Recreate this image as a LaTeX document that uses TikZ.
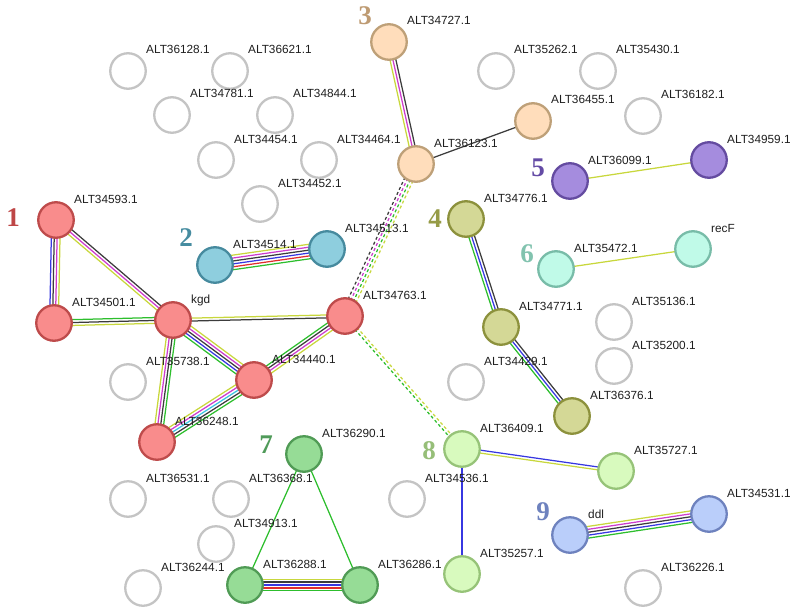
\documentclass[tikz,border=0pt]{standalone}
\usepackage{fontspec}
\setmainfont{Liberation Sans}
\newfontfamily\numfont{Liberation Serif}
\usetikzlibrary{calc}
\pgfdeclarelayer{bg}
\pgfsetlayers{bg,main}
\definecolor{cYel}{RGB}{200,215,60}
\definecolor{cGrn}{RGB}{45,190,45}
\definecolor{cBlu}{RGB}{55,55,225}
\definecolor{cRed}{RGB}{225,45,45}
\definecolor{cMag}{RGB}{205,60,205}
\definecolor{cBlk}{RGB}{60,60,60}
\definecolor{cCya}{RGB}{60,195,225}
\definecolor{fRed}{RGB}{249,140,140}\definecolor{bRed}{RGB}{190,75,75}
\definecolor{fBlu}{RGB}{142,206,222}\definecolor{bBlu}{RGB}{70,138,158}
\definecolor{fOra}{RGB}{255,221,187}\definecolor{bOra}{RGB}{190,160,120}
\definecolor{fOli}{RGB}{212,216,150}\definecolor{bOli}{RGB}{140,145,60}
\definecolor{fPur}{RGB}{165,140,222}\definecolor{bPur}{RGB}{100,75,160}
\definecolor{fTea}{RGB}{192,250,232}\definecolor{bTea}{RGB}{120,188,168}
\definecolor{fGrn}{RGB}{150,220,150}\definecolor{bGrn}{RGB}{80,155,85}
\definecolor{fLgr}{RGB}{216,250,190}\definecolor{bLgr}{RGB}{150,195,120}
\definecolor{fBl9}{RGB}{186,206,250}\definecolor{bBl9}{RGB}{110,130,190}
\definecolor{bGry}{RGB}{196,196,196}
\definecolor{tDark}{RGB}{30,30,30}
\definecolor{k1}{RGB}{190,70,70}
\definecolor{k2}{RGB}{70,140,160}
\definecolor{k3}{RGB}{190,155,115}
\definecolor{k4}{RGB}{150,155,70}
\definecolor{k5}{RGB}{100,75,165}
\definecolor{k6}{RGB}{130,195,175}
\definecolor{k7}{RGB}{80,155,90}
\definecolor{k8}{RGB}{150,190,120}
\definecolor{k9}{RGB}{110,130,190}
\tikzset{
  prot/.style n args={2}{circle, minimum size=35.5pt, inner sep=0pt, line width=2.3pt, draw=#2, fill=#1},
  greyprot/.style={circle, minimum size=35.5pt, inner sep=0pt, line width=2.3pt, draw=bGry, fill=white},
  plabel/.style={anchor=base west, inner sep=0pt, font=\fontsize{11.8}{12}\selectfont, text=tDark},
  knum/.style={inner sep=0pt, font=\numfont\bfseries\fontsize{27}{27}\selectfont},
  eline/.style={line width=1.25pt},
  dline/.style={dash pattern=on 3pt off 2.5pt}
}
\newcommand\strline[4][]{%
  \foreach \cc [count=\ii] in {#4} {\xdef\nlin{\ii}}%
  \foreach \cc [count=\ii] in {#4} {%
    \pgfmathsetmacro\off{((\nlin+1)/2-\ii)*2.9}%
    \draw[eline,#1,draw=\cc] ($(#2.center)!\off pt!90:(#3.center)$) -- ($(#3.center)!\off pt!-90:(#2.center)$);
  }}
\newcommand\prt[5]{% name, x, y, style, label
  \node[#4] (#1) at (#2,#3) {};
  \node[plabel] (#1-l) at (#2+18,#3-17) {#5};}
\begin{document}
\begin{tikzpicture}[x=1pt,y=-1pt]
\useasboundingbox (0,0) rectangle (797,615);
% grey nodes
\prt{g36128}{128}{71}{greyprot}{ALT36128.1}
\prt{g36621}{230}{71}{greyprot}{ALT36621.1}
\prt{g34781}{172}{115}{greyprot}{ALT34781.1}
\prt{g34844}{275}{115}{greyprot}{ALT34844.1}
\prt{g34454}{216}{160}{greyprot}{ALT34454.1}
\prt{g34464}{319}{160}{greyprot}{ALT34464.1}
\prt{g34452}{260}{204}{greyprot}{ALT34452.1}
\prt{g35262}{496}{71}{greyprot}{ALT35262.1}
\prt{g35430}{598}{71}{greyprot}{ALT35430.1}
\prt{g36182}{643}{116}{greyprot}{ALT36182.1}
\prt{g35136}{614}{322}{greyprot}{ALT35136.1}
\prt{g35200}{614}{366}{greyprot}{ALT35200.1}
\prt{g34429}{466}{382}{greyprot}{ALT34429.1}
\prt{g35738}{128}{382}{greyprot}{ALT35738.1}
\prt{g36531}{128}{499}{greyprot}{ALT36531.1}
\prt{g36368}{231}{499}{greyprot}{ALT36368.1}
\prt{g34913}{216}{544}{greyprot}{ALT34913.1}
\prt{g36244}{143}{588}{greyprot}{ALT36244.1}
\prt{g34536}{407}{499}{greyprot}{ALT34536.1}
\prt{g36226}{643}{588}{greyprot}{ALT36226.1}
% cluster 1
\prt{n34593}{56}{220}{prot={fRed}{bRed}}{ALT34593.1}
\prt{n34501}{54}{323}{prot={fRed}{bRed}}{ALT34501.1}
\prt{kgd}{173}{320}{prot={fRed}{bRed}}{kgd}
\prt{n34763}{345}{316}{prot={fRed}{bRed}}{ALT34763.1}
\prt{n34440}{254}{380}{prot={fRed}{bRed}}{ALT34440.1}
\prt{n36248}{157}{442}{prot={fRed}{bRed}}{ALT36248.1}
% cluster 2
\prt{n34514}{215}{265}{prot={fBlu}{bBlu}}{ALT34514.1}
\prt{n34513}{327}{249}{prot={fBlu}{bBlu}}{ALT34513.1}
% cluster 3
\prt{n34727}{389}{42}{prot={fOra}{bOra}}{ALT34727.1}
\prt{n36123}{416}{164}{prot={fOra}{bOra}}{ALT36123.1}
\prt{n36455}{533}{121}{prot={fOra}{bOra}}{ALT36455.1}
% cluster 4
\prt{n34776}{466}{219}{prot={fOli}{bOli}}{ALT34776.1}
\prt{n34771}{501}{327}{prot={fOli}{bOli}}{ALT34771.1}
\prt{n36376}{572}{416}{prot={fOli}{bOli}}{ALT36376.1}
% cluster 5
\prt{n36099}{570}{181}{prot={fPur}{bPur}}{ALT36099.1}
\prt{n34959}{709}{160}{prot={fPur}{bPur}}{ALT34959.1}
% cluster 6
\prt{n35472}{556}{269}{prot={fTea}{bTea}}{ALT35472.1}
\prt{recF}{693}{249}{prot={fTea}{bTea}}{recF}
% cluster 7
\prt{n36290}{304}{454}{prot={fGrn}{bGrn}}{ALT36290.1}
\prt{n36288}{245}{585}{prot={fGrn}{bGrn}}{ALT36288.1}
\prt{n36286}{360}{585}{prot={fGrn}{bGrn}}{ALT36286.1}
% cluster 8
\prt{n36409}{462}{449}{prot={fLgr}{bLgr}}{ALT36409.1}
\prt{n35727}{616}{471}{prot={fLgr}{bLgr}}{ALT35727.1}
\prt{n35257}{462}{574}{prot={fLgr}{bLgr}}{ALT35257.1}
% cluster 9
\prt{ddl}{570}{535}{prot={fBl9}{bBl9}}{ddl}
\prt{n34531}{709}{514}{prot={fBl9}{bBl9}}{ALT34531.1}
% cluster numbers
\node[knum,text=k1] (k1) at (13,218) {1};
\node[knum,text=k2] (k2) at (186,238) {2};
\node[knum,text=k3] (k3) at (365,16) {3};
\node[knum,text=k4] (k4) at (435,219) {4};
\node[knum,text=k5] (k5) at (538,168) {5};
\node[knum,text=k6] (k6) at (527,254) {6};
\node[knum,text=k7] (k7) at (266,445) {7};
\node[knum,text=k8] (k8) at (429,451) {8};
\node[knum,text=k9] (k9) at (543,512) {9};
% edges
\begin{pgfonlayer}{bg}
\strline{n34593}{n34501}{cYel,cMag,cBlk,cBlu}
\strline{n34593}{kgd}{cBlk,cMag,cYel}
\strline{n34501}{kgd}{cGrn,cBlk,cYel}
\strline{kgd}{n34763}{cYel,cBlk}
\strline{kgd}{n34440}{cYel,cMag,cBlk,cBlu,cGrn}
\strline{kgd}{n36248}{cGrn,cBlk,cMag,cYel}
\strline{n34440}{n36248}{cGrn,cBlk,cCya,cMag,cYel}
\strline{n34440}{n34763}{cGrn,cBlk,cMag,cYel}
\strline{n34514}{n34513}{cYel,cMag,cBlk,cBlu,cRed,cGrn}
\strline{n34727}{n36123}{cBlk,cMag,cYel}
\strline{n36123}{n36455}{cBlk}
\strline[dline]{n36123}{n34763}{cYel,cGrn,cMag,cBlk}
\strline[dline]{n34763}{n36409}{cYel,cGrn}
\strline{n36099}{n34959}{cYel}
\strline{n35472}{recF}{cYel}
\strline{n34776}{n34771}{cBlk,cBlu,cGrn}
\strline{n34771}{n36376}{cBlk,cBlu,cGrn}
\strline{n36409}{n35727}{cBlu,cYel}
\strline{n36409}{n35257}{cBlu}
\strline{ddl}{n34531}{cYel,cMag,cBlk,cBlu,cGrn}
\strline{n36290}{n36288}{cGrn}
\strline{n36290}{n36286}{cGrn}
\strline{n36288}{n36286}{cYel,cBlk,cBlu,cRed,cGrn}
\end{pgfonlayer}
\end{tikzpicture}
\end{document}
